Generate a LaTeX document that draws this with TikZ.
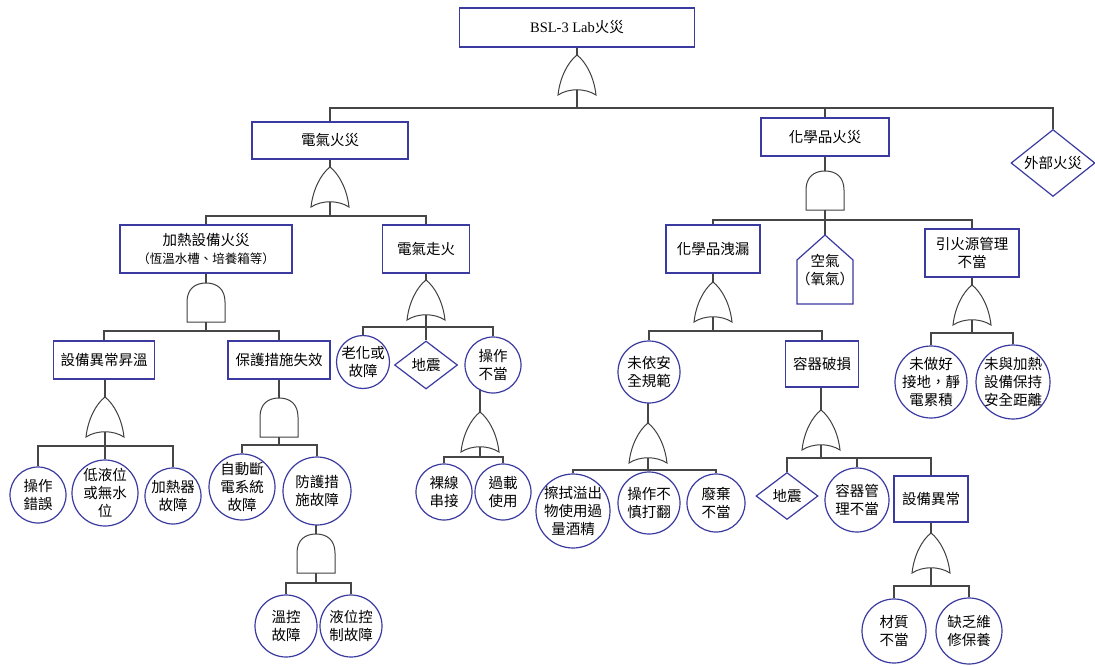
\documentclass[tikz,border=0pt]{standalone}
\usepackage{fontspec}
\setmainfont{Liberation Serif}
\newfontfamily\cjk{Noto Sans CJK TC}
\usetikzlibrary{shapes.geometric,backgrounds,calc}
\definecolor{boxblue}{RGB}{58,58,160}
\definecolor{linegray}{RGB}{70,70,70}
\newcommand\busfan[2]{%
  \draw[conn] (#1-out) -- (#1-bus);
  \foreach \t in {#2}{\draw[conn] (#1-bus) -| (\t);}
}
\newcommand\feed[2]{\draw[conn] (#2-in) -- (#2-in |- #1.center);}
\begin{document}
\begin{tikzpicture}[x=1pt,y=-1pt,
  conn/.style={draw=linegray, line width=1.3pt},
  gateline/.style={draw=black!75, line width=1pt},
  evbox/.style={rectangle, draw=boxblue, line width=1.4pt, fill=white, inner sep=0pt, align=center, font=\cjk\fontsize{14.5}{18}\selectfont},
  evcirc/.style={circle, draw=boxblue, line width=1.2pt, fill=white, inner sep=-8pt, align=center, font=\cjk\fontsize{14.5}{18}\selectfont, minimum size=#1},
  evdiam/.style={diamond, draw=boxblue, line width=1.2pt, fill=white, inner sep=0pt, font=\cjk\fontsize{14.5}{18}\selectfont},
  orgate/.pic={
    \draw[gateline, fill=white] (-19,0) .. controls (-17,-18) and (-9,-33) .. (0,-40)
      .. controls (9,-33) and (17,-18) .. (19,0)
      .. controls (8,-7) and (-8,-7) .. (-19,0) -- cycle;
    \coordinate (-in) at (0,-40);
    \coordinate (-out) at (0,-5);
  },
  andgate/.pic={
    \draw[gateline, fill=white] (-19,0) -- (-19,-20) .. controls (-19,-33) and (-11,-39) .. (0,-39)
      .. controls (11,-39) and (19,-33) .. (19,-20) -- (19,0) -- cycle;
    \coordinate (-in) at (0,-39);
    \coordinate (-out) at (0,0);
  }
]
\useasboundingbox (0,0) rectangle (1095,666);

% ---- events ----
\node[evbox, minimum width=235pt, minimum height=39pt] (top) at (577,27.5) {{\rmfamily BSL-3 Lab}火災};
\node[evbox, minimum width=156pt, minimum height=37pt] (elec) at (330,140.5) {電氣火災};
\node[evbox, minimum width=128pt, minimum height=38pt] (chem) at (825,137) {化學品火災};
\node[evdiam, minimum width=84pt, minimum height=67pt, aspect=1.25] (ext) at (1053,163) {外部火災};

\node[evbox, minimum width=172pt, minimum height=48pt] (heat) at (206,249) {加熱設備火災\\{\fontsize{12.5}{15}\selectfont （恆溫水槽、培養箱等）}};
\node[evbox, minimum width=87pt, minimum height=48pt] (short) at (426,249) {電氣走火};
\node[evbox, minimum width=101pt, minimum height=38pt] (abn) at (104,360) {設備異常昇溫};
\node[evbox, minimum width=102pt, minimum height=38pt] (prot) at (279,360) {保護措施失效};

\node[evcirc=56pt] (c1) at (38,495) {操作\\錯誤};
\node[evcirc=66pt] (c2) at (105,493) {低液位\\或無水\\位};
\node[evcirc=56pt] (c3) at (173,496) {加熱器\\故障};
\node[evcirc=66pt] (c4) at (242,487) {自動斷\\電系統\\故障};
\node[evcirc=68pt] (c5) at (317,491) {防護措\\施故障};
\node[evcirc=62pt] (c6) at (286,626) {溫控\\故障};
\node[evcirc=62pt] (c7) at (351,626) {液位控\\制故障};
\node[evcirc=53pt] (c8) at (363,362) {老化或\\故障};
\node[evdiam, minimum width=63pt, minimum height=48pt, aspect=1.3] (d1) at (426,365) {地震};
\node[evcirc=56pt] (c9) at (493,365) {操作\\不當};
\node[evcirc=56pt] (c10) at (444,492) {裸線\\串接};
\node[evcirc=56pt] (c11) at (503,492) {過載\\使用};

\node[evbox, minimum width=94pt, minimum height=48pt] (leak) at (713,249) {化學品洩漏};
\node[inner sep=0pt, align=center, font=\cjk\fontsize{14.5}{18}\selectfont] (air) at (825,270) {空氣\\（氧氣）};
\coordinate (airtop) at ($(air.center)+(0,-35)$);
\node[evbox, minimum width=94pt, minimum height=48pt] (ign) at (972,253) {引火源管理\\不當};
\node[evcirc=62pt] (c12) at (649,372) {未依安\\全規範};
\node[evbox, minimum width=73pt, minimum height=46pt] (brk) at (822,364) {容器破損};
\node[evcirc=74pt] (c13) at (573,511) {擦拭溢出\\物使用過\\量酒精};
\node[evcirc=62pt] (c14) at (649,503) {操作不\\慎打翻};
\node[evcirc=58pt] (c15) at (716,503) {廢棄\\不當};
\node[evdiam, minimum width=62pt, minimum height=47pt, aspect=1.3] (d2) at (787,496) {地震};
\node[evcirc=64pt] (c16) at (857,500) {容器管\\理不當};
\node[evbox, minimum width=74pt, minimum height=46pt] (eq) at (931,499) {設備異常};
\node[evcirc=64pt] (c17) at (894,631) {材質\\不當};
\node[evcirc=66pt] (c18) at (969,631) {缺乏維\\修保養};
\node[evcirc=72pt] (c19) at (931,382) {未做好\\接地，靜\\電累積};
\node[evcirc=74pt] (c20) at (1013,382) {未與加熱\\設備保持\\安全距離};

% house shape for 空氣(氧氣)
\draw[draw=boxblue, line width=1.2pt, fill=white]
  ($(air.center)+(-28,34)$) -- ($(air.center)+(28,34)$) -- ($(air.center)+(28,-10)$)
  -- (airtop) -- ($(air.center)+(-28,-10)$) -- cycle;
\node[inner sep=0pt, align=center, font=\cjk\fontsize{14.5}{18}\selectfont] at (air.center) {空氣\\（氧氣）};

% ---- gates ----
\pic (gTop) at (577,95) {orgate};
\pic (gElec) at (330,207) {orgate};
\pic (gHeat) at (206,322) {andgate};
\pic (gShort) at (426,320) {orgate};
\pic (gAbn) at (105,437) {orgate};
\pic (gProt) at (279,437) {andgate};
\pic (gC5) at (316,573) {andgate};
\pic (gC9) at (480,452) {orgate};
\pic (gChem) at (825,210) {andgate};
\pic (gLeak) at (713,322) {orgate};
\pic (gC12) at (648,463) {orgate};
\pic (gBrk) at (821,450) {orgate};
\pic (gEq) at (931,573) {orgate};
\pic (gIgn) at (972,325) {orgate};

\coordinate (gTop-bus) at (577,108);
\coordinate (gElec-bus) at (330,216);
\coordinate (gHeat-bus) at (206,331);
\coordinate (gShort-bus) at (426,327);
\coordinate (gAbn-bus) at (105,446);
\coordinate (gProt-bus) at (279,445);
\coordinate (gC5-bus) at (316,583);
\coordinate (gC9-bus) at (480,457);
\coordinate (gChem-bus) at (825,220);
\coordinate (gLeak-bus) at (713,331);
\coordinate (gC12-bus) at (648,470);
\coordinate (gBrk-bus) at (821,458);
\coordinate (gEq-bus) at (931,586);
\coordinate (gIgn-bus) at (972,333);

\begin{pgfonlayer}{background}
\fill[white] (0,0) rectangle (1095,666);
\feed{top}{gTop}
\feed{elec}{gElec}
\feed{heat}{gHeat}
\feed{short}{gShort}
\feed{abn}{gAbn}
\feed{prot}{gProt}
\feed{c5}{gC5}
\feed{c9}{gC9}
\feed{chem}{gChem}
\feed{leak}{gLeak}
\feed{c12}{gC12}
\feed{brk}{gBrk}
\feed{eq}{gEq}
\feed{ign}{gIgn}
\busfan{gTop}{elec.north,chem.north,ext.north}
\busfan{gElec}{heat.north,short.north}
\busfan{gHeat}{abn.north,prot.north}
\busfan{gShort}{c8.north,d1.north,c9.north}
\busfan{gAbn}{c1.north,c2.north,c3.north}
\busfan{gProt}{c4.north,c5.north}
\busfan{gC5}{c6.north,c7.north}
\busfan{gC9}{c10.north,c11.north}
\busfan{gChem}{leak.north,airtop,ign.north}
\busfan{gLeak}{c12.north,brk.north}
\busfan{gC12}{c13.north,c14.north,c15.north}
\busfan{gBrk}{d2.north,c16.north,eq.north}
\busfan{gEq}{c17.north,c18.north}
\busfan{gIgn}{c19.north,c20.north}
\end{pgfonlayer}
\end{tikzpicture}
\end{document}
